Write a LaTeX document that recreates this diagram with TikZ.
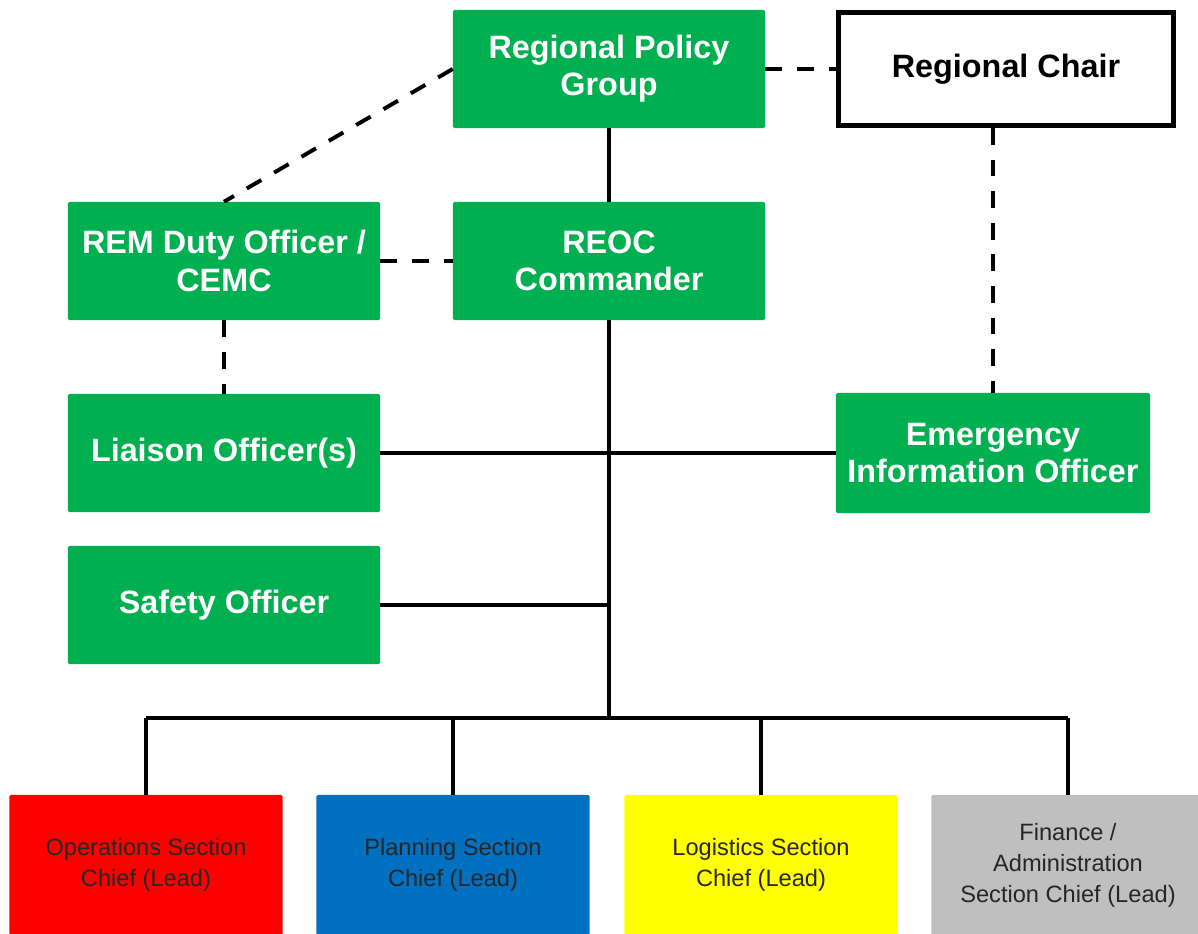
\documentclass[tikz,border=0pt]{standalone}
\usepackage{fontspec}
\setmainfont{Liberation Sans}
\usepackage{xcolor}
\definecolor{colorStaff}{RGB}{0,176,80}
\definecolor{colorOps}{RGB}{255,0,0}
\definecolor{colorPlan}{RGB}{0,112,192}
\definecolor{colorLogi}{RGB}{255,255,0}
\definecolor{colorFin}{RGB}{191,191,191}
\usepackage{tikz}
\tikzset{
  staff/.style={fill=colorStaff, rounded corners=1pt, minimum width=7.8cm, minimum height=2.95cm,
    align=center, text=white, font=\fontsize{23}{26.5}\selectfont\bfseries},
  chief/.style={rounded corners=1pt, minimum width=6.825cm, minimum height=3.5cm,
    align=center, text=black!85, font=\fontsize{16.8}{22}\selectfont},
  link/.style={line width=2.8pt},
  advise/.style={line width=2.8pt, dash pattern=on 0.42cm off 0.37cm}
}

\begin{document}
\begin{tikzpicture}[x=0.025cm, y=-0.025cm]
\useasboundingbox (0,0) rectangle (1198,934);
\node[staff] (rpg) at (609,69) {Regional Policy\\Group};
\node[draw, line width=3.5pt, minimum width=8.375cm, minimum height=2.825cm,
  font=\fontsize{23}{26.5}\selectfont\bfseries] (chair) at (1006,69) {Regional Chair};
\node[staff] (rem) at (224,261) {REM Duty Officer /\\CEMC};
\node[staff] (reoc) at (609,261) {REOC\\Commander};
\node[staff] (liaison) at (224,453) {Liaison Officer(s)};
\node[staff, minimum width=7.85cm, minimum height=3cm] (eio) at (993,453) {Emergency\\Information Officer};
\node[staff] (safety) at (224,605) {Safety Officer};
\node[chief, fill=colorOps] (ops) at (146,865) {Operations Section\\Chief (Lead)};
\node[chief, fill=colorPlan] (plan) at (453,865) {Planning Section\\Chief (Lead)};
\node[chief, fill=colorLogi] (logi) at (761,865) {Logistics Section\\Chief (Lead)};
\node[chief, fill=colorFin] (fin) at (1068,865) {Finance /\\Administration\\Section Chief (Lead)};
\coordinate (bus) at (609,718);
% command line
\draw[link] (rpg.south) -- (reoc.north);
\draw[link] (reoc.south) -- (bus);
\draw[link] (liaison.east) -- (eio.west);
\draw[link] (safety.east) -- (reoc.south |- safety.east);
\draw[link] (ops.north |- bus) -- (fin.north |- bus);
\foreach \sec in {ops, plan, logi, fin}
  \draw[link] (\sec.north |- bus) -- (\sec.north);
% advisory links
\draw[advise] (rpg.west) -- (rem.north);
\draw[advise] (rpg.east) -- (chair.west);
\draw[advise] (rem.east) -- (reoc.west);
\draw[advise] (rem.south) -- (liaison.north);
\draw[advise] (eio.north |- chair.south) -- (eio.north);
\end{tikzpicture}
\end{document}
